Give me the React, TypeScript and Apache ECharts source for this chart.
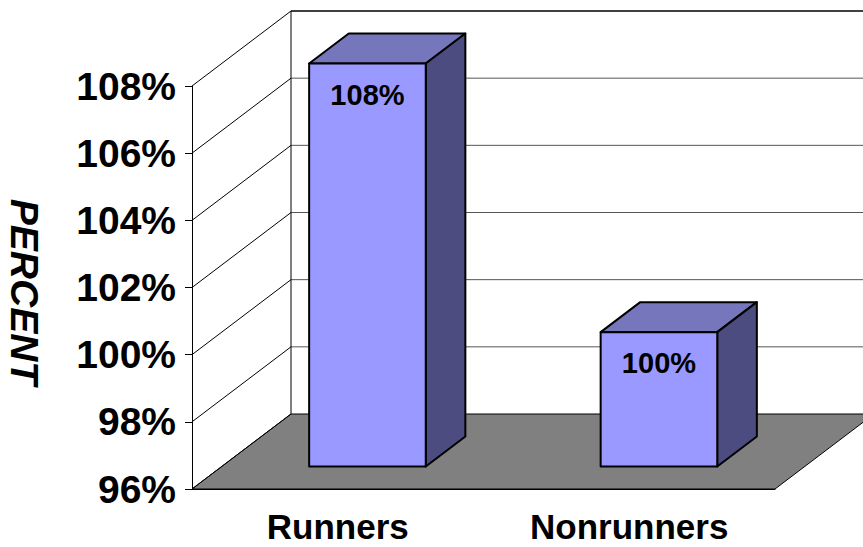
import React, { useEffect, useRef } from "react";
import * as echarts from "echarts";

// Chart data
const categories = ["Runners", "Nonrunners"];
const percentValues = [108, 100];
const yMin = 96;
const yMax = 108;
const yStep = 2;
const yTicks = [96, 98, 100, 102, 104, 106, 108];

// 3-D look: depth vector of the box (px) and bar placement inside the depth
const DEPTH = { x: 99, y: -75 };
const BAR_FRONT = 0.3;
const BAR_BACK = 0.7;
const BAR_WIDTH = 0.4;

const FONT = "'Liberation Sans', Arial, Helvetica, sans-serif";

export default function App() {
  const ref = useRef<HTMLDivElement>(null);

  useEffect(() => {
    if (!ref.current) return;
    const chart = echarts.init(ref.current, undefined, { renderer: "svg" });

    const frameRender = (params: any, api: any) => {
      const cs = params.coordSys;
      const x0 = cs.x;
      const x1 = cs.x + cs.width;
      const yOf = (v: number) => api.coord([0, v])[1];
      const yb = yOf(yMin);
      const children: any[] = [];
      // floor
      children.push({
        type: "polygon",
        shape: {
          points: [
            [x0, yb],
            [x1, yb],
            [x1 + DEPTH.x, yb + DEPTH.y],
            [x0 + DEPTH.x, yb + DEPTH.y],
          ],
        },
        style: { fill: "#808080", stroke: "#000", lineWidth: 1 },
      });
      yTicks.forEach((v) => {
        const y = yOf(v);
        // side wall grid line
        children.push({
          type: "line",
          shape: { x1: x0, y1: y, x2: x0 + DEPTH.x, y2: y + DEPTH.y },
          style: { stroke: "#000", lineWidth: 1 },
        });
        // back wall grid line
        if (v > yMin) {
          children.push({
            type: "line",
            shape: {
              x1: x0 + DEPTH.x,
              y1: y + DEPTH.y,
              x2: x1 + DEPTH.x,
              y2: y + DEPTH.y,
            },
            style: { stroke: v === yMax ? "#000" : "#555", lineWidth: v === yMax ? 1.3 : 1 },
          });
        }
      });
      // back wall corner
      children.push({
        type: "line",
        shape: {
          x1: x0 + DEPTH.x,
          y1: yOf(yMax) + DEPTH.y,
          x2: x0 + DEPTH.x,
          y2: yb + DEPTH.y,
        },
        style: { stroke: "#000", lineWidth: 1 },
      });
      return { type: "group", children };
    };

    const barRender = (params: any, api: any) => {
      const idx = api.value(0);
      const val = api.value(1);
      const top = api.coord([idx, val]);
      const base = api.coord([idx, yMin]);
      const band = api.size([1, 0])[0];
      const w = band * BAR_WIDTH;
      const xl = top[0] - w / 2;
      const xr = top[0] + w / 2;
      const yt = top[1];
      const yb = base[1];
      const fx = DEPTH.x * BAR_FRONT;
      const fy = DEPTH.y * BAR_FRONT;
      const bx = DEPTH.x * BAR_BACK;
      const by = DEPTH.y * BAR_BACK;
      const edge = { stroke: "#000", lineWidth: 2, lineJoin: "round" };
      return {
        type: "group",
        children: [
          {
            type: "polygon",
            shape: {
              points: [
                [xl + fx, yt + fy],
                [xr + fx, yt + fy],
                [xr + bx, yt + by],
                [xl + bx, yt + by],
              ],
            },
            style: { fill: "#7676bc", ...edge },
          },
          {
            type: "polygon",
            shape: {
              points: [
                [xr + fx, yt + fy],
                [xr + fx, yb + fy],
                [xr + bx, yb + by],
                [xr + bx, yt + by],
              ],
            },
            style: { fill: "#4c4c80", ...edge },
          },
          {
            type: "polygon",
            shape: {
              points: [
                [xl + fx, yt + fy],
                [xr + fx, yt + fy],
                [xr + fx, yb + fy],
                [xl + fx, yb + fy],
              ],
            },
            style: { fill: "#9999ff", ...edge },
          },
          {
            type: "text",
            x: top[0] + fx,
            y: yt + fy + 31,
            style: {
              text: val + "%",
              fill: "#000",
              font: `bold 29px ${FONT}`,
              align: "center",
              verticalAlign: "middle",
            },
          },
        ],
      };
    };

    chart.setOption({
      animation: false,
      backgroundColor: "#fff",
      grid: {
        left: 192,
        right: 88,
        top: 86,
        bottom: 58,
        outerBoundsMode: "none",
      },
      xAxis: {
        type: "category",
        data: categories,
        axisLine: { lineStyle: { color: "#000", width: 1 } },
        axisTick: { length: 8, lineStyle: { color: "#000" } },
        axisLabel: {
          color: "#000",
          fontFamily: FONT,
          fontWeight: "bold",
          fontSize: 35,
          margin: 20,
        },
        splitLine: { show: false },
      },
      yAxis: {
        type: "value",
        min: yMin,
        max: yMax,
        interval: yStep,
        axisLine: { show: true, lineStyle: { color: "#000", width: 1 } },
        axisTick: { show: true, length: 7, lineStyle: { color: "#000" } },
        axisLabel: {
          color: "#000",
          fontFamily: FONT,
          fontWeight: "bold",
          fontSize: 39,
          margin: 16,
          formatter: "{value}%",
        },
        splitLine: { show: false },
      },
      graphic: [
        {
          type: "text",
          x: 24,
          y: 292,
          rotation: -Math.PI / 2,
          style: {
            text: "PERCENT",
            fill: "#000",
            font: `italic bold 39px ${FONT}`,
            align: "center",
            verticalAlign: "middle",
          },
        },
      ],
      series: [
        {
          type: "custom",
          z: 1,
          data: [[0, yMin]],
          renderItem: frameRender,
          silent: true,
        },
        {
          type: "custom",
          z: 3,
          data: percentValues.map((v, i) => [i, v]),
          encode: { x: 0, y: 1 },
          renderItem: barRender,
        },
      ],
    });

    return () => chart.dispose();
  }, []);

  return (
    <div
      ref={ref}
      style={{ position: "fixed", left: 0, top: 0, width: 863, height: 547 }}
    />
  );
}
